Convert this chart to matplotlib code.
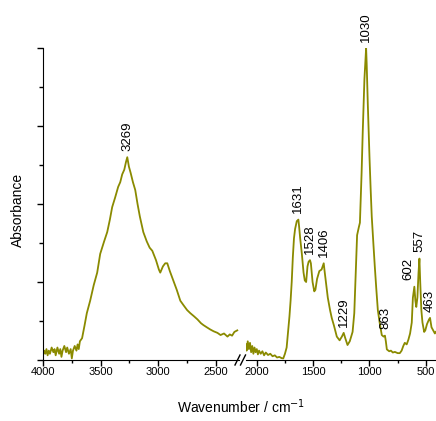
import numpy as np
import matplotlib
matplotlib.use("Agg")
import matplotlib.pyplot as plt
from matplotlib.lines import Line2D
from matplotlib.ticker import MultipleLocator, NullFormatter

plt.rcParams['font.family'] = ['Liberation Sans', 'DejaVu Sans']

# spectrum, high wavenumber part (left of the axis break)
wn_high = [4000, 3990, 3980, 3970, 3960, 3950, 3940, 3925, 3910, 3900, 3890, 3875,
           3860, 3850, 3840, 3830, 3815, 3800, 3790, 3775, 3760, 3750, 3740, 3725,
           3710, 3700, 3690, 3680, 3661, 3640, 3620, 3591, 3560, 3530, 3504, 3470,
           3443, 3420, 3400, 3375, 3348, 3330, 3313, 3295, 3280, 3269, 3255, 3240,
           3220, 3200, 3180, 3160, 3130, 3100, 3075, 3052, 3020, 2995, 2983, 2960,
           2940, 2922, 2900, 2870, 2840, 2809, 2780, 2750, 2722, 2690, 2660, 2630,
           2609, 2580, 2550, 2520, 2487, 2460, 2430, 2400, 2380, 2360, 2340, 2315]
abs_high = [0.015, 0.03, 0.02, 0.035, 0.015, 0.03, 0.02, 0.04, 0.025, 0.035, 0.015, 0.04,
            0.02, 0.035, 0.01, 0.03, 0.045, 0.025, 0.04, 0.02, 0.035, 0.005, 0.03, 0.045,
            0.03, 0.05, 0.035, 0.06, 0.07, 0.11, 0.15, 0.19, 0.24, 0.28, 0.34, 0.38,
            0.41, 0.45, 0.49, 0.52, 0.555, 0.57, 0.595, 0.61, 0.635, 0.65, 0.62, 0.60,
            0.57, 0.545, 0.50, 0.46, 0.41, 0.38, 0.36, 0.35, 0.32, 0.29, 0.28, 0.30,
            0.31, 0.31, 0.285, 0.255, 0.225, 0.19, 0.175, 0.16, 0.15, 0.14, 0.13, 0.118,
            0.112, 0.105, 0.098, 0.092, 0.087, 0.08, 0.085, 0.075, 0.082, 0.078, 0.09, 0.095]

# spectrum, fingerprint part (right of the break)
wn_low = [2095, 2090, 2080, 2070, 2060, 2050, 2040, 2030, 2020, 2010, 2000, 1990,
          1980, 1965, 1950, 1935, 1920, 1900, 1880, 1860, 1840, 1820, 1800, 1780,
          1765, 1750, 1735, 1725, 1710, 1700, 1690, 1680, 1670, 1660, 1645, 1631,
          1625, 1615, 1600, 1585, 1574, 1562, 1550, 1540, 1528, 1520, 1505, 1490,
          1480, 1465, 1445, 1425, 1406, 1400, 1385, 1370, 1350, 1335, 1315, 1290,
          1265, 1245, 1229, 1215, 1195, 1175, 1150, 1135, 1120, 1110, 1095, 1085,
          1070, 1060, 1045, 1030, 1025, 1015, 1000, 990, 980, 965, 953, 940,
          926, 910, 891, 875, 863, 855, 846, 825, 810, 793, 775, 750,
          731, 715, 700, 687, 670, 655, 640, 625, 615, 602, 593, 585,
          575, 565, 557, 550, 540, 530, 515, 505, 490, 472, 463, 450,
          435, 420, 412]
abs_low = [0.05, 0.03, 0.06, 0.035, 0.055, 0.025, 0.045, 0.02, 0.04, 0.025, 0.035, 0.018,
           0.03, 0.02, 0.028, 0.015, 0.024, 0.016, 0.02, 0.012, 0.015, 0.008, 0.01, 0.006,
           0.005, 0.02, 0.04, 0.08, 0.14, 0.19, 0.25, 0.33, 0.39, 0.42, 0.445, 0.45,
           0.43, 0.39, 0.34, 0.28, 0.255, 0.25, 0.30, 0.315, 0.32, 0.31, 0.25, 0.22,
           0.225, 0.26, 0.285, 0.29, 0.31, 0.29, 0.245, 0.20, 0.16, 0.135, 0.11, 0.075,
           0.063, 0.075, 0.087, 0.07, 0.048, 0.06, 0.09, 0.15, 0.30, 0.40, 0.425, 0.44,
           0.60, 0.73, 0.90, 1.0, 0.95, 0.82, 0.65, 0.55, 0.46, 0.37, 0.30, 0.23,
           0.16, 0.12, 0.08, 0.075, 0.078, 0.06, 0.034, 0.028, 0.03, 0.024, 0.026, 0.022,
           0.022, 0.03, 0.045, 0.055, 0.05, 0.065, 0.085, 0.12, 0.20, 0.235, 0.19, 0.17,
           0.20, 0.28, 0.325, 0.25, 0.16, 0.12, 0.09, 0.095, 0.115, 0.13, 0.135, 0.105,
           0.095, 0.085, 0.09]

peaks_high = [3269]
peaks_low = [1631, 1528, 1406, 1229, 1030, 863, 602, 557, 463]

color = '#8a8a00'
W, H = 436, 421
fig = plt.figure(figsize=(W / 100, H / 100), dpi=100)

y0, y1 = 1 - 360 / H, 312 / H
ax1 = fig.add_axes([43 / W, y0, 196 / W, y1])
ax2 = fig.add_axes([245.5 / W, y0, 190.5 / W, y1])

ax1.plot(wn_high, abs_high, color=color, lw=1.3)
ax2.plot(wn_low, abs_low, color=color, lw=1.3)
ax1.set_xlim(4000, 2300)
ax2.set_xlim(2100, 410)

for ax in (ax1, ax2):
    ax.set_ylim(0, 1.0)
    ax.spines['top'].set_visible(False)
    ax.spines['right'].set_visible(False)
    ax.xaxis.set_major_locator(MultipleLocator(500))
    ax.xaxis.set_minor_locator(MultipleLocator(250))
    ax.tick_params(axis='x', which='major', length=4, width=1, pad=1, labelsize=8)
    ax.tick_params(axis='x', which='minor', length=2.5, width=1)
    ax.set_facecolor('none')

ax1.yaxis.set_major_locator(MultipleLocator(0.25))
ax1.yaxis.set_minor_locator(MultipleLocator(0.125))
ax1.yaxis.set_major_formatter(NullFormatter())
ax1.tick_params(axis='y', which='major', length=4.5, width=1)
ax1.tick_params(axis='y', which='minor', length=3, width=1)
ax2.spines['left'].set_visible(False)
ax2.tick_params(axis='y', which='both', left=False, labelleft=False)

# peak labels
offsets = {602: -4, 557: 0}
for ax, peaks, wn, ab in ((ax1, peaks_high, wn_high, abs_high),
                          (ax2, peaks_low, wn_low, abs_low)):
    xs, ys = np.array(wn[::-1]), np.array(ab[::-1])
    for p in peaks:
        yv = np.interp(p, xs, ys)
        ax.annotate(str(p), (p, yv), xytext=(offsets.get(p, 0), 4.5),
                    textcoords='offset points', rotation=90, ha='center',
                    va='bottom', fontsize=9.5, annotation_clip=False)

# axis break marks
for xc in (237.5, 243):
    fig.add_artist(Line2D([(xc - 2.5) / W, (xc + 2.5) / W],
                          [1 - 365 / H, 1 - 355 / H], color='black', lw=1))

fig.text(241 / W, 1 - 407 / H, 'Wavenumber / cm$^{-1}$', ha='center', va='center',
         fontsize=10)
fig.text(18 / W, 1 - 210 / H, 'Absorbance', rotation=90, ha='center', va='center',
         fontsize=10)

fig.savefig('out.png', dpi=100)
